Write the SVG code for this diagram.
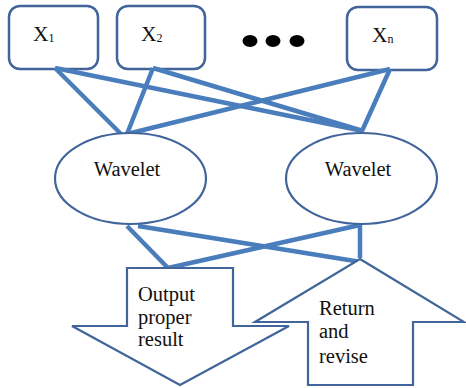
<svg xmlns="http://www.w3.org/2000/svg" width="466" height="388" viewBox="0 0 466 388">
<style>
.box{fill:#fff;stroke:#41659a;stroke-width:2.5}
.ell{fill:#fff;stroke:#41659a;stroke-width:2.2}
.arr{fill:#fff;stroke:#41659a;stroke-width:2.2;stroke-linejoin:miter}
.con{stroke:#4a7dbc;stroke-width:4.5;fill:none;stroke-linecap:butt}
text{font-family:"Liberation Serif","Times New Roman",serif;fill:#111}
.lbl{font-size:21.5px}
.sub{font-size:12px}
.w{font-size:20.5px}
.t{font-size:20.5px}
</style>
<g id="x1"><rect class="box" x="9" y="6" width="89" height="63" rx="11"/><text class="lbl" x="33" y="41">X<tspan class="sub" dy="0.5">1</tspan></text></g>
<g id="x2"><rect class="box" x="117" y="6" width="88" height="63" rx="11"/><text class="lbl" x="141" y="41">X<tspan class="sub" dy="0.5">2</tspan></text></g>
<g id="dots" fill="#000"><ellipse cx="250" cy="41" rx="7.5" ry="6"/><ellipse cx="273" cy="41" rx="7.5" ry="6"/><ellipse cx="297" cy="41" rx="7.5" ry="6"/></g>
<g id="xn"><rect class="box" x="347" y="7" width="90" height="63" rx="11"/><text class="lbl" x="372" y="42">X<tspan class="sub" dy="0.5">n</tspan></text></g>
<g id="connectors">
<line class="con" x1="55" y1="68" x2="121" y2="134"/>
<line class="con" x1="55" y1="68" x2="363" y2="131"/>
<line class="con" x1="153" y1="68" x2="127" y2="134"/>
<line class="con" x1="153" y1="68" x2="363" y2="131"/>
<line class="con" x1="390" y1="69" x2="127" y2="134"/>
<line class="con" x1="390" y1="69" x2="362" y2="131"/>
<line class="con" x1="127" y1="226" x2="168" y2="268"/>
<line class="con" x1="138" y1="226" x2="361" y2="262"/>
<line class="con" x1="360" y1="225" x2="168" y2="268"/>
<line class="con" x1="360" y1="225" x2="360" y2="258"/>
</g>
<g id="w1"><ellipse class="ell" cx="130.5" cy="178.5" rx="75.5" ry="45.5"/><text class="w" x="127" y="176" text-anchor="middle">Wavelet</text></g>
<g id="w2"><ellipse class="ell" cx="361.5" cy="178.5" rx="75.5" ry="45.5"/><text class="w" x="358" y="176" text-anchor="middle">Wavelet</text></g>
<g id="output"><polygon class="arr" points="127,268 233,268 233,326 289,326 180,385 72,326 127,326"/><text class="t"><tspan x="138" y="301">Output</tspan><tspan x="138" y="324">proper</tspan><tspan x="138" y="346">result</tspan></text></g>
<g id="return"><polygon class="arr" points="360,259 464,322 413,322 413,385 308,385 308,322 255,322"/><text class="t"><tspan x="319" y="315">Return</tspan><tspan x="319" y="338">and</tspan><tspan x="319" y="363">revise</tspan></text></g>
</svg>
